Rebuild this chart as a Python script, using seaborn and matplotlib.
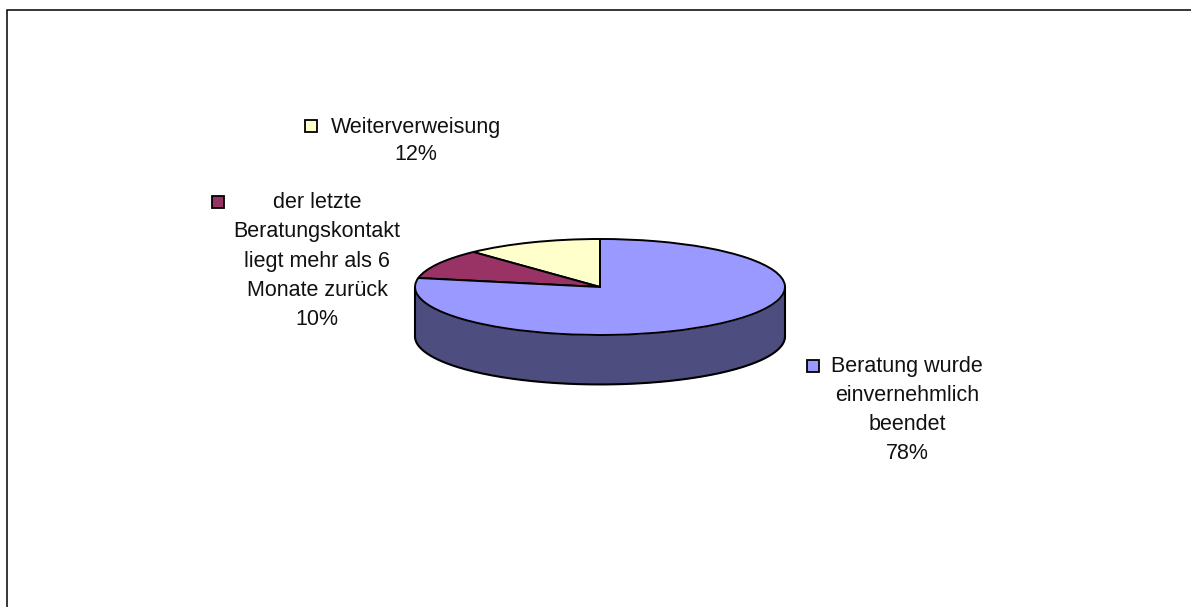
import numpy as np
import seaborn as sns
import matplotlib
matplotlib.use("Agg")
import matplotlib.pyplot as plt
from matplotlib.patches import Rectangle

# order is counter-clockwise from 12 o'clock
labels = ['Weiterverweisung', 'der letzte\nBeratungskontakt\nliegt mehr als 6\nMonate zurück', 'Beratung wurde\neinvernehmlich\nbeendet']
shares = [12, 10, 78]
colors = ['#FFFFCC', '#993366', '#9999FF']
wall_color = '#4D4D80'

sns.set_theme(style="white")
plt.rcParams['font.family'] = ['Liberation Sans', 'DejaVu Sans']

W, H = 1191, 607
fig = plt.figure(figsize=(W / 100, H / 100), dpi=100, facecolor='white')

# background axes in pixel coordinates for frame and labels
bg = fig.add_axes([0, 0, 1, 1])
bg.set_xlim(0, W)
bg.set_ylim(H, 0)
bg.axis('off')
bg.plot([7.3, 7.3, W], [H, 10.3, 10.3], color='black', lw=1.1, solid_joinstyle='miter')

fontsize = 15.5
text_pos = [(416, 141, 1.42), (317, 261, 1.52), (907, 410, 1.52)]
key_pos = [(311, 126), (218, 202), (813, 366)]
for lab, share, col, (tx, ty, ls), (kx, ky) in zip(labels, shares, colors, text_pos, key_pos):
    bg.text(tx, ty, f'{lab}\n{share}%', ha='center', va='center', multialignment='center',
            fontsize=fontsize, linespacing=ls, color='#111111')
    bg.add_patch(Rectangle((kx - 6, ky - 6), 12, 12, facecolor=col, edgecolor='black', lw=1.3))

# pie squashed to an ellipse by its own axes box
pie_ax = fig.add_axes([415 / W, 1 - 335 / H, 370 / W, 96 / H])
pie_ax.patch.set_alpha(0)

depth = 1.03
t = np.linspace(np.pi, 2 * np.pi, 200)
pie_ax.fill_between(np.cos(t), np.sin(t), np.sin(t) - depth, color=wall_color, lw=0, clip_on=False, zorder=1)
pie_ax.plot(np.cos(t), np.sin(t) - depth, color='black', lw=1.5, clip_on=False, zorder=2)
pie_ax.plot([-1, -1], [0, -depth], color='black', lw=1.5, clip_on=False, zorder=2)
pie_ax.plot([1, 1], [0, -depth], color='black', lw=1.5, clip_on=False, zorder=2)

wedges, _ = pie_ax.pie(shares, colors=colors, startangle=90, counterclock=True, radius=1,
                       wedgeprops={'edgecolor': 'black', 'linewidth': 1.4, 'zorder': 3})
for w in wedges:
    w.set_clip_on(False)
pie_ax.set_aspect('auto')
pie_ax.set_xlim(-1, 1)
pie_ax.set_ylim(-1, 1)
pie_ax.axis('off')

fig.savefig('out.png', dpi=100)
